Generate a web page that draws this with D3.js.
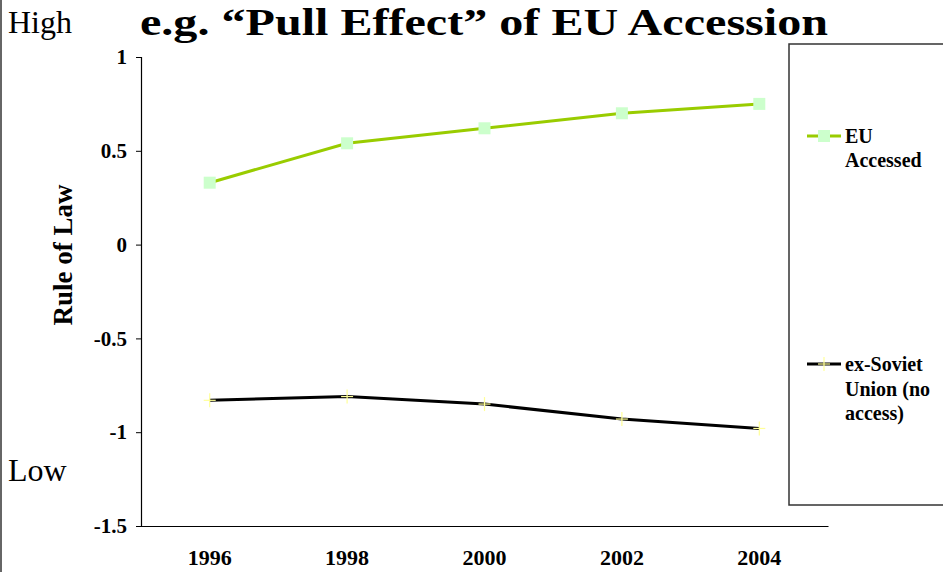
<!DOCTYPE html>
<html><head><meta charset="utf-8">
<script src="https://cdn.jsdelivr.net/npm/d3@7"></script>
<style>body{margin:0;background:#fff}svg{display:block}text{font-family:"Liberation Serif","Times New Roman",serif}</style>
</head><body>
<svg id="c" width="943" height="572"></svg>
<script>
const years = ["1996","1998","2000","2002","2004"];
const euAccessed = [0.33, 0.54, 0.62, 0.70, 0.75];
const exSoviet = [-0.83, -0.81, -0.85, -0.93, -0.98];
const yTicks = [1, 0.5, 0, -0.5, -1, -1.5];
const seriesNames = [["EU","Accessed"],["ex-Soviet","Union (no","access)"]];

const svg = d3.select("#c");
const L = 141, R = 828, T = 57, B = 526;
const x = d3.scaleBand().domain(years).range([L, R]).padding(0);
const y = d3.scaleLinear().domain([-1.5, 1]).range([B, T]);

// left page border
svg.append("line").attr("x1",1).attr("x2",1).attr("y1",0).attr("y2",572).attr("stroke","#666").attr("stroke-width",2);

// legend box
svg.append("rect").attr("x",789).attr("y",44).attr("width",170).attr("height",461)
  .attr("fill","#fff").attr("stroke","#333").attr("stroke-width",1.5);

// y axis
const ya = svg.append("g").attr("transform",`translate(${L},0)`)
  .call(d3.axisLeft(y).tickValues(yTicks).tickSize(5).tickPadding(9).tickFormat(d=>String(d)));
ya.select(".domain").attr("stroke","#000").attr("stroke-width",1.2);
ya.selectAll("line").attr("stroke","#000");
ya.selectAll("text").attr("font-size",21).attr("font-weight","bold").attr("fill","#000")
  .style("font-family",'"Liberation Serif",serif');

// x axis
const xa = svg.append("g").attr("transform",`translate(0,${B})`)
  .call(d3.axisBottom(x).tickSize(0).tickPadding(23));
xa.select(".domain").attr("stroke","#000").attr("stroke-width",1.2);
xa.selectAll("text").attr("font-size",22).attr("font-weight","bold").attr("fill","#000")
  .style("font-family",'"Liberation Serif",serif');

const cx = d => x(d) + x.bandwidth()/2;
const line = d3.line().x((d,i)=>cx(years[i])).y(d=>y(d));

// EU series
svg.append("path").datum(euAccessed).attr("d",line).attr("fill","none").attr("stroke","#99cc00").attr("stroke-width",3);
svg.selectAll(".eu").data(euAccessed).enter().append("rect")
  .attr("x",(d,i)=>cx(years[i])-6).attr("y",d=>y(d)-6).attr("width",12).attr("height",12).attr("fill","#ccffcc");

// ex-Soviet series
svg.append("path").datum(exSoviet).attr("d",line).attr("fill","none").attr("stroke","#000").attr("stroke-width",3);
const plus = (g, px, py) => {
  g.append("line").attr("x1",px-6).attr("x2",px+6).attr("y1",py).attr("y2",py).attr("stroke","#ffff99").attr("stroke-width",1.2);
  g.append("line").attr("x1",px).attr("x2",px).attr("y1",py-7).attr("y2",py+7).attr("stroke","#ffff99").attr("stroke-width",1.2);
};
const sg = svg.append("g");
exSoviet.forEach((d,i)=>plus(sg, cx(years[i]), y(d)));

// legend
const lg = svg.append("g");
lg.append("line").attr("x1",807).attr("x2",841).attr("y1",136).attr("y2",136).attr("stroke","#99cc00").attr("stroke-width",3);
lg.append("rect").attr("x",818).attr("y",130).attr("width",12).attr("height",12).attr("fill","#ccffcc");
lg.append("line").attr("x1",807).attr("x2",841).attr("y1",364).attr("y2",364).attr("stroke","#000").attr("stroke-width",3);
plus(lg, 824, 364);
const lt1 = lg.append("text").attr("x",845).attr("y",143).attr("font-size",20).attr("font-weight","bold");
seriesNames[0].forEach((t,i)=>lt1.append("tspan").attr("x",845).attr("dy",i?24:0).text(t));
const lt2 = lg.append("text").attr("x",845).attr("y",371).attr("font-size",20).attr("font-weight","bold");
seriesNames[1].forEach((t,i)=>lt2.append("tspan").attr("x",845).attr("dy",i?24.5:0).text(t));

// title
svg.append("text").attr("x",140).attr("y",35).attr("font-size",37).attr("font-weight","bold")
  .attr("textLength",688).attr("lengthAdjust","spacingAndGlyphs")
  .text("e.g. \u201CPull Effect\u201D of EU Accession");

// High / Low
svg.append("text").attr("x",8).attr("y",33).attr("font-size",32).text("High");
svg.append("text").attr("x",8).attr("y",481).attr("font-size",32).text("Low");

// y axis title
svg.append("text").attr("transform","translate(72,255) rotate(-90)").attr("text-anchor","middle")
  .attr("font-size",27).attr("font-weight","bold").text("Rule of Law");
</script>
</body></html>
